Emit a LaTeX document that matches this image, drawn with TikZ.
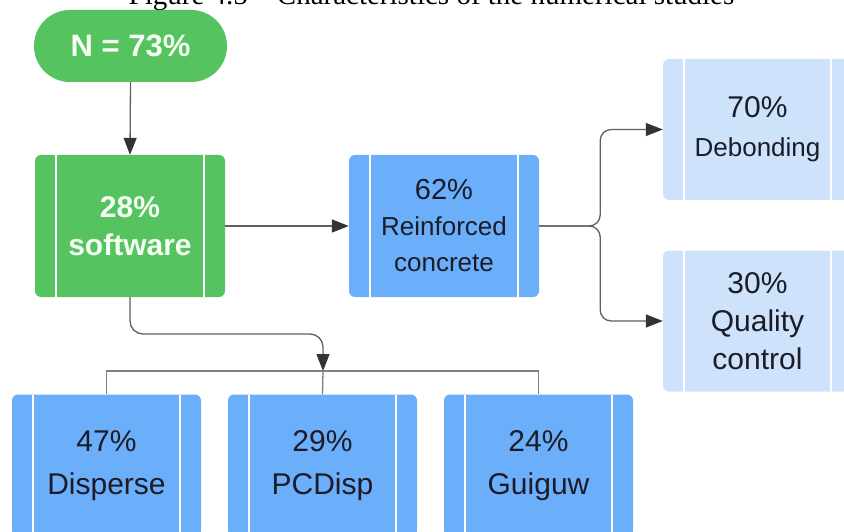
\documentclass[tikz,border=0pt]{standalone}
\usepackage{fontspec}
\setmainfont{Liberation Sans}
\newfontfamily\capfont{Liberation Serif}
\usetikzlibrary{arrows.meta}
\definecolor{gfill}{HTML}{55C360}
\definecolor{bfill}{HTML}{6BAEFA}
\definecolor{lfill}{HTML}{CEE3FB}
\definecolor{txt}{HTML}{1C1C28}
\definecolor{wtxt}{HTML}{F6FFF4}
\definecolor{conn}{HTML}{606060}
\definecolor{tip}{HTML}{333333}
\tikzset{
  bars/.style={path picture={
    \draw[white, line width=1.4pt] ([xshift=#1]path picture bounding box.north west) -- ([xshift=#1]path picture bounding box.south west);
    \draw[white, line width=1.4pt] ([xshift=-#1]path picture bounding box.north east) -- ([xshift=-#1]path picture bounding box.south east);}},
  card/.style={rectangle, rounded corners=6pt, draw=none, inner sep=0pt,
    minimum width=190pt, minimum height=142pt, align=center, bars=21pt},
  gbox/.style={card, fill=gfill, text=wtxt, font=\bfseries\fontsize{30}{38}\selectfont},
  bbox/.style={card, fill=bfill, text=txt},
  lbox/.style={card, fill=lfill, text=txt, minimum width=189pt, minimum height=141pt},
  oval/.style={rectangle, rounded corners=35.9pt, fill=gfill, text=wtxt, inner sep=0pt,
    minimum width=193pt, minimum height=72pt, font=\bfseries\fontsize{31}{36}\selectfont},
  conline/.style={draw=conn, line width=1.3pt},
  arr/.style={conline, -{Triangle[length=17pt, width=13pt, fill=tip, color=tip]}},
}
\begin{document}
\begin{tikzpicture}[x=1pt, y=-1pt]
\useasboundingbox (0,0) rectangle (844,532);
\clip (0,0) rectangle (844,532);
\node[anchor=base, inner sep=0pt, font=\capfont\fontsize{29}{34}\selectfont] (cap) at (431.5,5)
  {Figure 4.5 – Characteristics of the numerical studies};

\node[oval] (N) at (130.5,46) {N = 73\%};
\node[gbox] (soft) at (130,226) {28\%\\software};
\node[bbox, font=\fontsize{26}{36}\selectfont] (reinf) at (444,226)
  {{\fontsize{29}{36}\selectfont 62\%}\\Reinforced\\concrete};
\node[lbox, font=\fontsize{26}{39}\selectfont] (deb) at (757.5,129.5)
  {{\fontsize{30}{39}\selectfont 70\%}\\Debonding};
\node[lbox, font=\fontsize{30}{38}\selectfont] (qc) at (757.5,321)
  {30\%\\Quality\\control};
\node[bbox, minimum width=189pt, font=\fontsize{30}{43}\selectfont] (disp) at (106.5,465.5) {47\%\\Disperse};
\node[bbox, minimum width=189pt, font=\fontsize{30}{43}\selectfont] (pcd) at (322.5,465.5) {29\%\\PCDisp};
\node[bbox, minimum width=189pt, font=\fontsize{30}{43}\selectfont] (gui) at (538.5,465.5) {24\%\\Guiguw};

\coordinate (turn) at (323,334);
\coordinate (bar) at (323,371);

\draw[arr] (N.south) -- (soft.north);
\draw[arr] (soft.east) -- (reinf.west);
\draw[arr, rounded corners=11pt] (reinf.east) -- ([xshift=61pt]reinf.east) |- (deb.west);
\draw[arr, rounded corners=11pt] (reinf.east) -- ([xshift=61pt]reinf.east) |- (qc.west);
\draw[arr, rounded corners=13pt] (soft.south) |- (turn) -- (bar);
\draw[conline, draw=conn!80] (disp.north) |- (bar) -| (gui.north);
\draw[conline, draw=conn!80] (bar) -- (pcd.north);
\end{tikzpicture}
\end{document}
